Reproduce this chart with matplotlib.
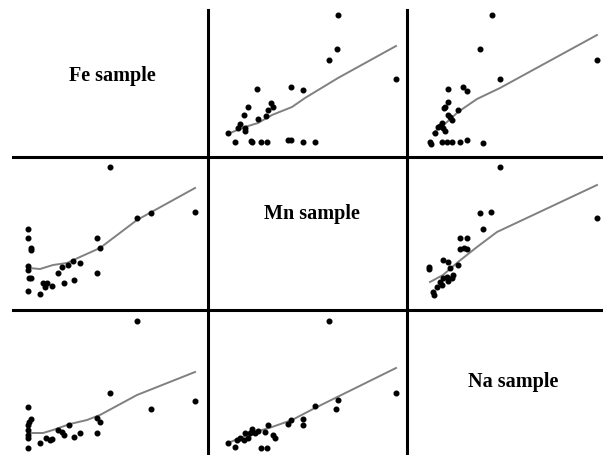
import matplotlib
matplotlib.use('Agg')
from matplotlib import pyplot as plt
from matplotlib.lines import Line2D

# scatterplot matrix: rows/cols = Fe, Mn, Na  (values in arbitrary units)
samples = ['Fe sample', 'Mn sample', 'Na sample']
label_pos = [(0.51, 0.55), (0.52, 0.63), (0.54, 0.50)]

# row Fe, col Mn
fe_mn_x = [130, 129, 121, 188, 49, 83, 95, 40, 63, 65, 60, 36, 58, 50, 32, 30, 37, 37,
           20, 27, 43, 44, 53, 59, 80, 83, 95, 107]
fe_mn_y = [142, 108, 97, 78, 68, 70, 67, 50, 54, 50, 47, 42, 41, 38, 33, 29, 29, 26,
           24, 15, 16, 15, 15, 15, 17, 17, 15, 15]
fe_mn_fit_x = [22, 37, 50, 64, 84, 97, 130, 188]
fe_mn_fit_y = [24, 30, 34, 42, 50, 59, 79, 111]

# row Fe, col Na
fe_na_x = [85, 73, 190, 93, 41, 56, 60, 41, 38, 37, 51, 41, 43, 45, 35, 33, 31, 36,
           38, 28, 23, 24, 35, 40, 45, 53, 60, 76]
fe_na_y = [142, 108, 97, 78, 68, 70, 66, 55, 50, 49, 47, 42, 40, 37, 34, 31, 30, 29,
           26, 24, 15, 13, 15, 15, 15, 15, 17, 14]
fe_na_fit_x = [26, 40, 51, 70, 93, 190]
fe_na_fit_y = [24, 35, 45, 58, 69, 122]

# row Mn, col Fe
mn_fe_x = [97, 182, 124, 138, 15, 15, 84, 18, 18, 87, 15, 15, 16, 18, 15, 27, 30, 34,
           32, 39, 51, 61, 45, 49, 55, 60, 67, 84]
mn_fe_y = [143, 98, 92, 97, 81, 72, 72, 62, 60, 62, 44, 40, 32, 32, 19, 16, 27, 27,
           23, 24, 27, 30, 37, 43, 45, 49, 47, 37]
mn_fe_fit_x = [16, 27, 40, 54, 67, 87, 124, 182]
mn_fe_fit_y = [42, 41, 45, 47, 53, 62, 90, 122]

# row Mn, col Na
mn_na_x = [93, 190, 73, 84, 76, 53, 60, 53, 57, 60, 36, 41, 51, 22, 22, 43, 46, 40,
           36, 33, 35, 30, 26, 27, 45, 41]
mn_na_y = [143, 92, 97, 98, 81, 72, 72, 61, 62, 61, 50, 48, 45, 43, 41, 42, 35, 33,
           32, 28, 25, 23, 18, 15, 32, 29]
mn_na_fit_x = [23, 36, 51, 70, 90, 190]
mn_na_fit_y = [28, 35, 48, 63, 78, 125]

# row Na, col Fe
na_fe_x = [124, 97, 182, 138, 15, 18, 16, 15, 15, 15, 15, 15, 27, 33, 39, 45, 49, 51,
           56, 61, 67, 84, 84, 87, 37]
na_fe_y = [134, 62, 54, 46, 48, 36, 33, 30, 25, 20, 17, 7, 12, 17, 16, 25, 23, 20,
           30, 18, 22, 22, 37, 33, 15]
na_fe_fit_x = [16, 30, 40, 57, 74, 87, 124, 182]
na_fe_fit_y = [22, 22, 25, 31, 35, 40, 60, 83]

# row Na, col Mn
na_mn_x = [121, 188, 130, 128, 107, 95, 95, 83, 80, 60, 57, 65, 67, 50, 44, 42, 37,
           36, 32, 29, 40, 20, 27, 53, 59, 47]
na_mn_y = [134, 62, 55, 46, 49, 36, 30, 35, 31, 30, 23, 20, 17, 24, 26, 22, 22, 15,
           17, 15, 17, 12, 8, 7, 7, 22]
na_mn_fit_x = [20, 44, 64, 84, 107, 188]
na_mn_fit_y = [12, 22, 28, 35, 47, 87]

panels = {
    (0, 1): (fe_mn_x, fe_mn_y, fe_mn_fit_x, fe_mn_fit_y),
    (0, 2): (fe_na_x, fe_na_y, fe_na_fit_x, fe_na_fit_y),
    (1, 0): (mn_fe_x, mn_fe_y, mn_fe_fit_x, mn_fe_fit_y),
    (1, 2): (mn_na_x, mn_na_y, mn_na_fit_x, mn_na_fit_y),
    (2, 0): (na_fe_x, na_fe_y, na_fe_fit_x, na_fe_fit_y),
    (2, 1): (na_mn_x, na_mn_y, na_mn_fit_x, na_mn_fit_y),
}

W, H = 603, 455
col_edges = [13, 208, 407, 603]   # pixel edges of the cells
row_edges = [10, 157, 310, 455]

fig = plt.figure(figsize=(W / 100, H / 100), dpi=100)

for i in range(3):
    for j in range(3):
        x0, x1 = col_edges[j], col_edges[j + 1]
        y0, y1 = row_edges[i], row_edges[i + 1]
        ax = fig.add_axes([x0 / W, 1 - y1 / H, (x1 - x0) / W, (y1 - y0) / H])
        ax.set_xlim(0, x1 - x0)
        ax.set_ylim(0, y1 - y0)
        ax.axis('off')
        if i == j:
            tx, ty = label_pos[i]
            ax.text(tx, ty, samples[i], transform=ax.transAxes,
                    ha='center', va='center', fontsize=14.5, fontweight='bold',
                    family='Liberation Serif')
            continue
        xs, ys, fx, fy = panels[(i, j)]
        ax.plot(fx, fy, color='#808080', lw=1.4, zorder=1)
        ax.scatter(xs, ys, s=11, color='black', zorder=2, clip_on=False)

# cell dividers
for x in col_edges[1:3]:
    fig.add_artist(Line2D([x / W, x / W], [0, 1 - 10 / H], color='black', lw=2.2))
for y in row_edges[1:3]:
    fig.add_artist(Line2D([13 / W, 1], [1 - y / H, 1 - y / H], color='black', lw=2.2))

plt.savefig('out.png', dpi=100, facecolor='white')
plt.close()
